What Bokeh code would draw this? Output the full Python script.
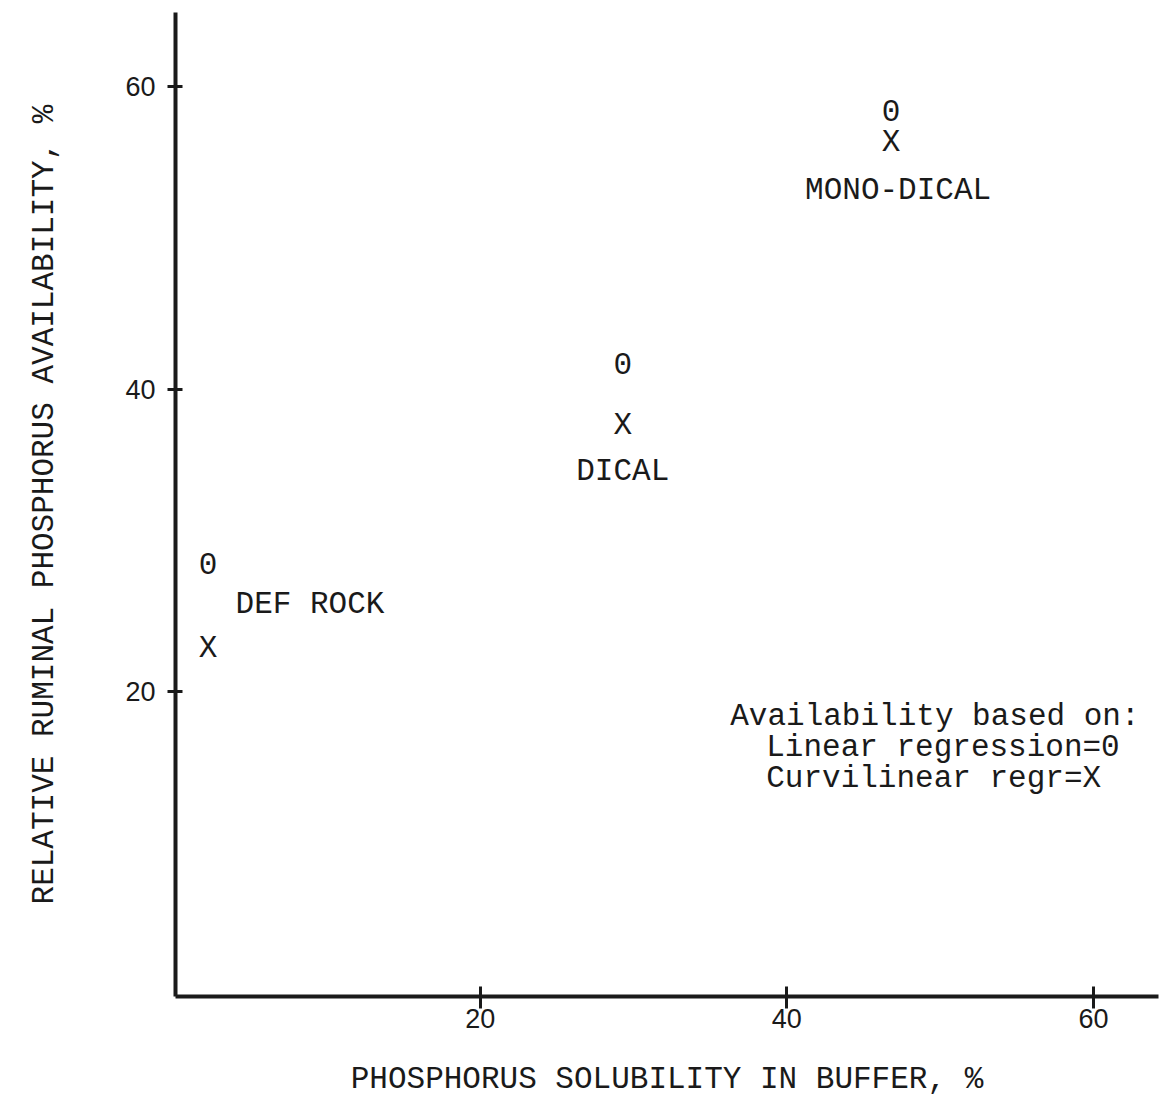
from bokeh.plotting import figure
from bokeh.models import Range1d, ColumnDataSource, FixedTicker
from bokeh.core.properties import value
from bokeh.embed import file_html
from bokeh.resources import INLINE

# ---- data ----
materials = ["DEF ROCK", "DICAL", "MONO-DICAL"]
solubility = [2.25, 29.3, 46.8]            # phosphorus solubility in buffer, %
linear_avail = [28.5, 41.7, 58.4]          # availability, linear regression (0)
curvilinear_avail = [22.9, 37.6, 56.3]     # availability, curvilinear regression (X)
x_ticks = [20, 40, 60]
y_ticks = [20, 40, 60]
legend_lines = ["Availability based on:", "Linear regression=0", "Curvilinear regr=X"]
x_title = "PHOSPHORUS SOLUBILITY IN BUFFER, %"
y_title = "RELATIVE RUMINAL PHOSPHORUS AVAILABILITY, %"

MONO = "Liberation Mono"
SANS = "Liberation Sans"
INK = "#1a1a1a"

p = figure(width=1160, height=1099,
           x_range=Range1d(0.13, 64.24), y_range=Range1d(-0.13, 64.9),
           output_backend="svg", toolbar_location=None,
           min_border_left=175, min_border_top=12, min_border_bottom=102, min_border_right=2)
p.outline_line_color = None
p.xgrid.visible = False
p.ygrid.visible = False
p.background_fill_color = "white"
p.border_fill_color = "white"

for ax in (p.xaxis[0], p.yaxis[0]):
    ax.axis_line_width = 4
    ax.axis_line_color = INK
    ax.major_tick_line_width = 3
    ax.major_tick_line_color = INK
    ax.minor_tick_line_color = None
    ax.major_label_text_font = SANS
    ax.major_label_text_font_size = "27px"
    ax.major_label_text_color = INK
    ax.axis_label_text_font = MONO
    ax.axis_label_text_font_size = "31px"
    ax.axis_label_text_font_style = "normal"
    ax.axis_label_text_color = INK

p.xaxis.ticker = FixedTicker(ticks=x_ticks)
p.yaxis.ticker = FixedTicker(ticks=y_ticks)
p.xaxis.major_tick_in = 10
p.xaxis.major_tick_out = 12
p.xaxis.major_label_standoff = 0
p.yaxis.major_tick_in = 7
p.yaxis.major_tick_out = 8
p.yaxis.major_label_standoff = 12
p.xaxis.axis_label = x_title
p.yaxis.axis_label = y_title
p.xaxis.axis_label_standoff = 31
p.yaxis.axis_label_standoff = 60

src = ColumnDataSource(dict(
    x=solubility, lin=linear_avail, cur=curvilinear_avail, name=materials,
    o=["0"] * len(materials), xm=["X"] * len(materials),
    lx_off=[102, 0, 7], ly_off=[-44, 46, 48],
))

common = dict(text_font=value(MONO), text_font_size="31px", text_color=INK,
              text_align="center", text_baseline="middle")
p.text(x="x", y="lin", text="o", source=src, **common)
p.text(x="x", y="cur", text="xm", source=src, **common)
p.text(x="x", y="cur", text="name", x_offset="lx_off", y_offset="ly_off", source=src, **common)

# explanatory note
leg = ColumnDataSource(dict(
    x=[36.31] * 3, y=[18.4] * 3, t=legend_lines,
    xo=[0, 36, 36], yo=[0, 31, 62],
))
p.text(x="x", y="y", text="t", x_offset="xo", y_offset="yo", source=leg,
       text_font=value(MONO), text_font_size="31px", text_color=INK,
       text_align="left", text_baseline="middle")

open("out.html", "w").write(file_html(p, INLINE))
